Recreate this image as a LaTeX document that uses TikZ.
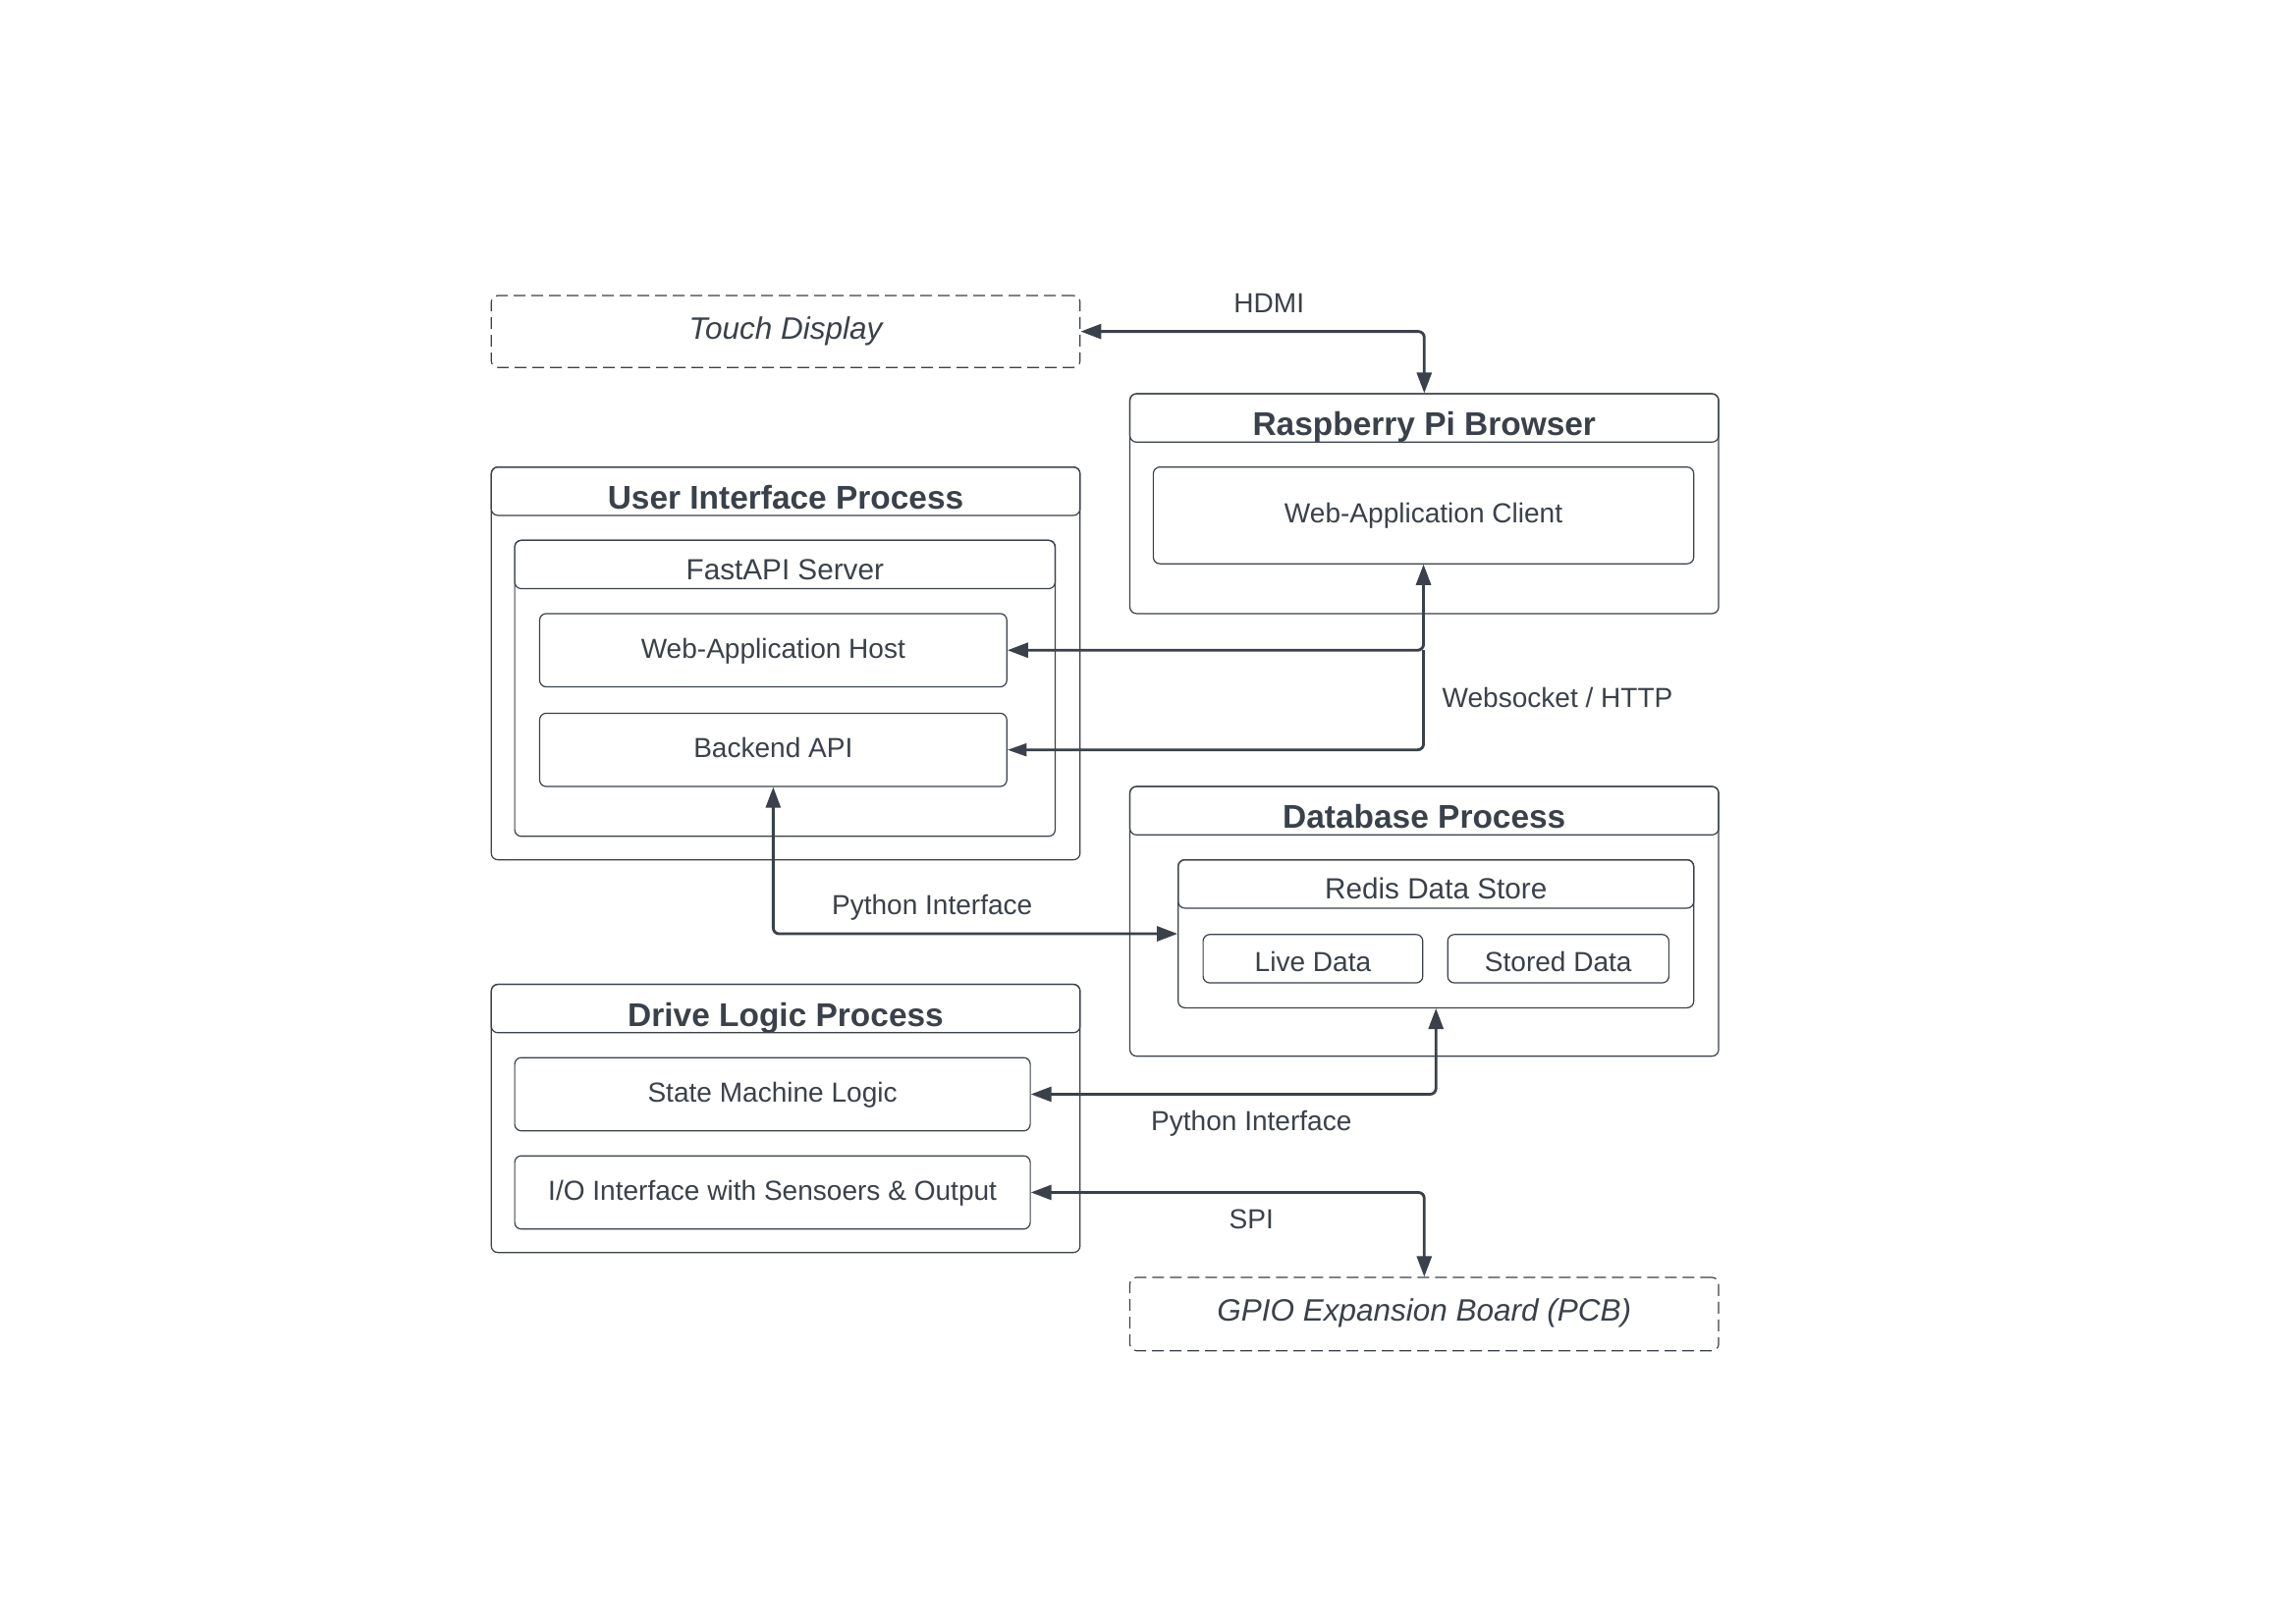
\documentclass[tikz,border=0pt]{standalone}
\usepackage{fontspec}
\setmainfont{Liberation Sans}
\usetikzlibrary{arrows.meta,fit}
\definecolor{ink}{RGB}{58,65,74}
\begin{document}
\begin{tikzpicture}[x=0.9943pt,y=-0.995pt,
  box/.style={draw=ink, line width=0.8pt, rounded corners=4.5pt, inner sep=0pt},
  dbox/.style={box, dash pattern=on 8pt off 4pt},
  txt/.style={text=ink, inner sep=0pt, font=\fontsize{18.7}{22}\selectfont, text height=13.4pt, text depth=0pt, yshift=1.5pt},
  ltxt/.style={txt, yshift=-3.5pt},
  itxt/.style={text=ink, inner sep=0pt, font=\itshape\fontsize{21}{25}\selectfont, text height=15pt, text depth=0pt, yshift=2.5pt},
  htxt/.style={text=ink, inner sep=0pt, font=\bfseries\fontsize{22.3}{26}\selectfont, text height=16pt, text depth=0pt, yshift=-3.9pt},
  stxt/.style={text=ink, inner sep=0pt, font=\fontsize{19.8}{24}\selectfont, text height=14.2pt, text depth=0pt, yshift=-3.2pt},
  lbl/.style={text=ink, inner sep=0pt, font=\fontsize{18.7}{22}\selectfont, text height=13.4pt, text depth=0pt},
  tip/.tip={Triangle[length=14pt,width=10pt]},
  smalltip/.tip={Triangle[length=13pt,width=8.5pt]},
  conn/.style={draw=ink, line width=1.9pt, rounded corners=4pt, tip-tip},
  connone/.style={draw=ink, line width=1.9pt, rounded corners=4pt, -smalltip}
]
\useasboundingbox[fill=white] (0.583,1.286) rectangle (1568.2,1108.8);

% Touch display
\node[dbox, fit={(336,203) (738,252)}] (touch) {};
\node[itxt] (touchtxt) at (touch.center) {Touch Display};

% Raspberry Pi Browser
\node[box, fit={(772,270) (1174,420)}] (rpb) {};
\node[box, fit={(772,270) (1174,303)}] (rpbh) {};
\node[htxt] (rpbtxt) at (rpbh.center) {Raspberry Pi Browser};
\node[box, fit={(788,320) (1157,386)}] (wac) {};
\node[txt] (wactxt) at (wac.center) {Web-Application Client};

% User Interface Process
\node[box, fit={(336,320) (738,588)}] (uip) {};
\node[box, fit={(336,320) (738,353)}] (uiph) {};
\node[htxt] (uiptxt) at (uiph.center) {User Interface Process};
\node[box, fit={(352,370) (721,572)}] (fas) {};
\node[box, fit={(352,370) (721,403)}] (fash) {};
\node[stxt] (fastxt) at (fash.center) {FastAPI Server};
\node[box, fit={(369,420) (688,470)}] (wah) {};
\node[txt] (wahtxt) at (wah.center) {Web-Application Host};
\node[box, fit={(369,488) (688,538)}] (bapi) {};
\node[txt] (bapitxt) at (bapi.center) {Backend API};

% Database Process
\node[box, fit={(772,538) (1174,722)}] (dbp) {};
\node[box, fit={(772,538) (1174,571)}] (dbph) {};
\node[htxt] (dbptxt) at (dbph.center) {Database Process};
\node[box, fit={(805,588) (1157,689)}] (redis) {};
\node[box, fit={(805,588) (1157,621)}] (redish) {};
\node[stxt] (redistxt) at (redish.center) {Redis Data Store};
\node[box, fit={(822,639) (972,672)}] (live) {};
\node[ltxt] (livetxt) at (live.center) {Live Data};
\node[box, fit={(989,639) (1140,672)}] (stored) {};
\node[ltxt] (storedtxt) at (stored.center) {Stored Data};

% Drive Logic Process
\node[box, fit={(336,673) (738,856)}] (dlp) {};
\node[box, fit={(336,673) (738,706)}] (dlph) {};
\node[htxt] (dlptxt) at (dlph.center) {Drive Logic Process};
\node[box, fit={(352,723) (704,773)}] (sml) {};
\node[txt] (smltxt) at (sml.center) {State Machine Logic};
\node[box, fit={(352,790) (704,840)}] (io) {};
\node[txt] (iotxt) at (io.center) {I/O Interface with Sensoers \& Output};

% GPIO
\node[dbox, fit={(772,873) (1174,923)}] (gpio) {};
\node[itxt] (gpiotxt) at (gpio.center) {GPIO Expansion Board (PCB)};

% Connectors
\draw[conn] (touch.east) -| (rpb.north);
\draw[conn] (wac.south) |- (wah.east);
\coordinate (junc) at (wac.south |- wah.east);
\draw[connone] (junc) |- (bapi.east);
\draw[conn] (bapi.south) |- (redis.west);
\draw[conn] (redis.south) |- (sml.east);
\draw[conn] (io.east) -| (gpio.north);

% Labels
\node[lbl] (lhdmi) at (867,208) {HDMI};
\node[lbl] (lws) at (1064,477) {Websocket / HTTP};
\node[lbl] (lpy1) at (637,619) {Python Interface};
\node[lbl] (lpy2) at (855,766) {Python Interface};
\node[lbl] (lspi) at (855,833) {SPI};
\end{tikzpicture}
\end{document}
